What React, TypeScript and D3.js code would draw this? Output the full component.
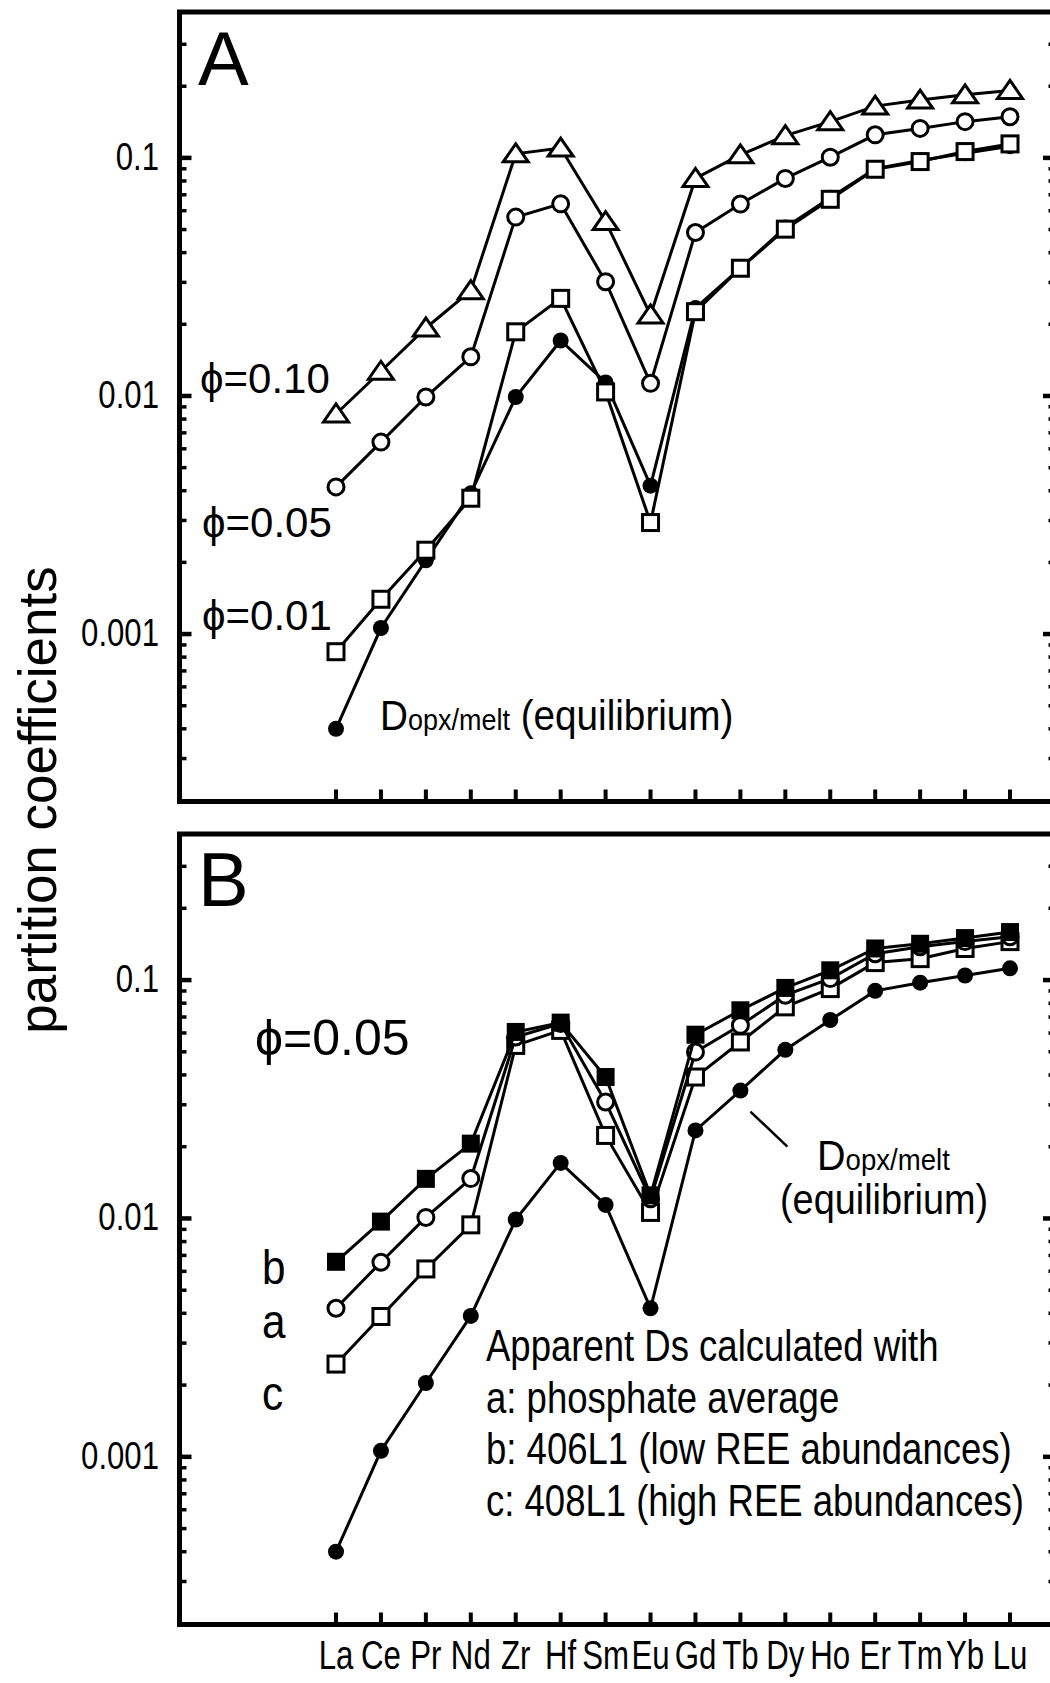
import React from 'react';
import * as d3 from 'd3';

const elements = ['La', 'Ce', 'Pr', 'Nd', 'Zr', 'Hf', 'Sm', 'Eu', 'Gd', 'Tb', 'Dy', 'Ho', 'Er', 'Tm', 'Yb', 'Lu'];

// D opx/melt (equilibrium), same curve in both panels
const dEquilibrium = [0.0004, 0.00106, 0.00204, 0.0039, 0.0099, 0.0171, 0.0114, 0.0042, 0.0234, 0.0344, 0.051, 0.068, 0.0901, 0.0975, 0.1045, 0.112];

// panel A, apparent Ds at different porosities
const phi001 = [0.000843, 0.0014, 0.00225, 0.00372, 0.0186, 0.0257, 0.0104, 0.00294, 0.0226, 0.0344, 0.0502, 0.067, 0.0896, 0.0965, 0.1063, 0.1145];
const phi005 = [0.00415, 0.0064, 0.0099, 0.0146, 0.0564, 0.0641, 0.0302, 0.0113, 0.0486, 0.064, 0.082, 0.1007, 0.125, 0.133, 0.142, 0.149];
const phi010 = [0.0084, 0.0127, 0.0193, 0.0277, 0.104, 0.11, 0.054, 0.0219, 0.082, 0.103, 0.124, 0.142, 0.165, 0.175, 0.184, 0.192];

// panel B, phi = 0.05
const aPhosphate = [0.0042, 0.00655, 0.0101, 0.0147, 0.0577, 0.0657, 0.0308, 0.0121, 0.0499, 0.0646, 0.0864, 0.1015, 0.129, 0.138, 0.145, 0.152];
const b406L1 = [0.00658, 0.0097, 0.01466, 0.0206, 0.0606, 0.0663, 0.0392, 0.0125, 0.059, 0.0747, 0.0927, 0.1099, 0.1357, 0.142, 0.15, 0.159];
const c408L1 = [0.00245, 0.00388, 0.00614, 0.0094, 0.0532, 0.0615, 0.0223, 0.0106, 0.0392, 0.055, 0.0772, 0.0921, 0.1184, 0.123, 0.1357, 0.145];

const yMajorTicks = [0.001, 0.01, 0.1];
const yMajorLabels = ['0.001', '0.01', '0.1'];

const legendLines = [
  'Apparent Ds calculated with',
  'a: phosphate average',
  'b: 406L1 (low REE abundances)',
  'c: 408L1 (high REE abundances)',
];

const FONT = 'Liberation Sans, Arial, Helvetica, sans-serif';
const W = 1050;
const H = 1683;
const LEFT = 179.5;
const RIGHT = 1056;

const x = d3.scalePoint<string>().domain(elements).range([336, 1010]);
const yDomain: [number, number] = [0.000198, 0.41];
const yA = d3.scaleLog().domain(yDomain).range([801.5, 12]);
const yB = d3.scaleLog().domain(yDomain).range([1624.5, 834]);

const minorTicks: number[] = [];
for (let e = -4; e <= 0; e++) {
  for (let m = 1; m <= 9; m++) minorTicks.push(+(m * Math.pow(10, e)).toPrecision(3));
}

type Shape = 'dot' | 'circle' | 'square' | 'fsquare' | 'triangle';

const Marker = ({ shape, cx, cy }: { shape: Shape; cx: number; cy: number }) => {
  if (shape === 'dot') return <circle cx={cx} cy={cy} r={8} fill="#000" />;
  if (shape === 'circle') return <circle cx={cx} cy={cy} r={8} fill="#fff" stroke="#000" strokeWidth={3} />;
  if (shape === 'square') return <rect x={cx - 8} y={cy - 8} width={16} height={16} fill="#fff" stroke="#000" strokeWidth={3} />;
  if (shape === 'fsquare') return <rect x={cx - 9} y={cy - 9} width={18} height={18} fill="#000" />;
  return <polygon points={`${cx - 12.5},${cy + 8} ${cx + 12.5},${cy + 8} ${cx},${cy - 10}`} fill="#fff" stroke="#000" strokeWidth={3} strokeLinejoin="miter" />;
};

const Series = ({ values, shape, y }: { values: number[]; shape: Shape; y: d3.ScaleLogarithmic<number, number> }) => {
  const line = d3.line<number>().x((_, i) => x(elements[i])!).y(v => y(v));
  return (
    <g>
      <path d={line(values) || ''} fill="none" stroke="#000" strokeWidth={3} />
      {values.map((v, i) => <Marker key={i} shape={shape} cx={x(elements[i])!} cy={y(v)} />)}
    </g>
  );
};

const NText = ({ tx, ty, size, sx = 1, anchor = 'start', children }: any) => (
  <text transform={`translate(${tx},${ty}) scale(${sx},1)`} fontSize={size} textAnchor={anchor} fill="#000" fontFamily={FONT}>
    {children}
  </text>
);

const Frame = ({ y, showLabels }: { y: d3.ScaleLogarithmic<number, number>; showLabels: boolean }) => {
  const [bottom, top] = y.range();
  const inside = minorTicks.filter(t => y(t) > top + 5 && y(t) < bottom - 5);
  return (
    <g>
      {inside.map(t => {
        const major = yMajorTicks.includes(t);
        return (
          <g key={t}>
            <line x1={LEFT} x2={LEFT + (major ? 12 : 7)} y1={y(t)} y2={y(t)} stroke="#000" strokeWidth={major ? 4.5 : 3.5} />
            <line x1={RIGHT} x2={RIGHT - (major ? 13 : 7.5)} y1={y(t)} y2={y(t)} stroke="#000" strokeWidth={major ? 4.5 : 3.5} />
          </g>
        );
      })}
      {elements.map(el => (
        <line key={el} x1={x(el)!} x2={x(el)!} y1={bottom} y2={bottom - 12} stroke="#000" strokeWidth={4} />
      ))}
      <rect x={LEFT} y={top} width={RIGHT - LEFT} height={bottom - top} fill="none" stroke="#000" strokeWidth={5} />
      {yMajorTicks.map((t, i) => (
        <NText key={t} tx={159} ty={y(t) + 12} size={38} sx={0.82} anchor="end">{yMajorLabels[i]}</NText>
      ))}
      {showLabels && elements.map(el => (
        <NText key={el} tx={x(el)!} ty={bottom + 44} size={40} sx={0.78} anchor="middle">{el}</NText>
      ))}
    </g>
  );
};

const App = () => {
  const leaderX = x('Tb')! + 10;
  const leaderY = yB(dEquilibrium[9]) + 21;
  return (
    <svg width={W} height={H} viewBox={`0 0 ${W} ${H}`} style={{ position: 'absolute', left: 0, top: 0, background: '#fff' }} fontFamily={FONT}>
      <rect x={0} y={0} width={W} height={H} fill="#fff" />
      <text transform="translate(56,800) rotate(-90)" fontSize={53} textAnchor="middle" fontFamily={FONT}>partition coefficients</text>

      {/* Panel A */}
      <Frame y={yA} showLabels={false} />
      <NText tx={198} ty={85} size={76}>A</NText>
      <Series values={dEquilibrium} shape="dot" y={yA} />
      <Series values={phi001} shape="square" y={yA} />
      <Series values={phi005} shape="circle" y={yA} />
      <Series values={phi010} shape="triangle" y={yA} />
      <NText tx={200} ty={393} size={42}>ϕ=0.10</NText>
      <NText tx={202} ty={537} size={42}>ϕ=0.05</NText>
      <NText tx={202} ty={630} size={42}>ϕ=0.01</NText>
      <NText tx={380} ty={730} size={43} sx={0.9}>
        D<tspan fontSize={30}>opx/melt</tspan> (equilibrium)
      </NText>

      {/* Panel B */}
      <Frame y={yB} showLabels={true} />
      <NText tx={198} ty={906} size={76}>B</NText>
      <Series values={dEquilibrium} shape="dot" y={yB} />
      <Series values={c408L1} shape="square" y={yB} />
      <Series values={aPhosphate} shape="circle" y={yB} />
      <Series values={b406L1} shape="fsquare" y={yB} />
      <NText tx={255} ty={1055} size={50}>ϕ=0.05</NText>
      <NText tx={262} ty={1284} size={48} sx={0.88}>b</NText>
      <NText tx={262} ty={1338} size={48} sx={0.88}>a</NText>
      <NText tx={262} ty={1410} size={48} sx={0.88}>c</NText>
      <line x1={leaderX} y1={leaderY} x2={leaderX + 37} y2={leaderY + 35} stroke="#000" strokeWidth={2.5} />
      <NText tx={817} ty={1170} size={43} sx={0.92}>
        D<tspan fontSize={30}>opx/melt</tspan>
      </NText>
      <NText tx={780} ty={1214} size={43} sx={0.88}>(equilibrium)</NText>
      {legendLines.map((s, i) => (
        <NText key={s} tx={486} ty={1361 + i * 51.5} size={44} sx={0.83}>{s}</NText>
      ))}
    </svg>
  );
};

export default App;
